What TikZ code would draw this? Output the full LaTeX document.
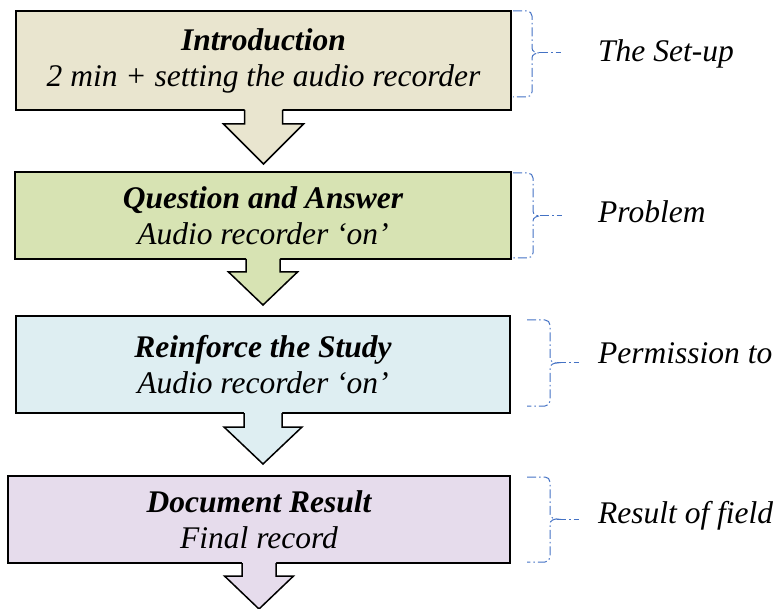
\documentclass[tikz,border=0pt]{standalone}
\usepackage{fontspec}
\setmainfont{Liberation Serif}
\definecolor{introfill}{HTML}{E9E5CF}
\definecolor{qafill}{HTML}{D7E3B3}
\definecolor{reinffill}{HTML}{DEEEF2}
\definecolor{docfill}{HTML}{E6DCEC}
\definecolor{braceblue}{HTML}{4472C4}
\tikzset{
  stage/.style={draw=black, line width=2pt, outer sep=0pt, inner sep=0pt, align=center,
    font=\fontsize{31.5}{36}\selectfont\itshape},
  bracket/.style={braceblue, line width=1pt, dash pattern=on 9pt off 3pt on 1.5pt off 3pt},
  note/.style={anchor=base west, inner sep=0pt, font=\fontsize{31.5}{36}\selectfont\itshape},
}
\begin{document}
\begin{tikzpicture}[x=1pt, y=-1pt]
\useasboundingbox (0,0) rectangle (779,609);

% the four stages
\node [stage, fill=introfill, minimum width=495pt, minimum height=99pt] (intro) at (263.5,60.5)
  {\textbf{Introduction}\\2 min + setting the audio recorder};
\node [stage, fill=qafill, minimum width=496pt, minimum height=87pt] (qa) at (263,215.5)
  {\textbf{Question and Answer}\\Audio recorder `on'};
\node [stage, fill=reinffill, minimum width=494pt, minimum height=97pt] (reinforce) at (263,364.5)
  {\textbf{Reinforce the Study}\\Audio recorder `on'};
\node [stage, fill=docfill, minimum width=502pt, minimum height=87pt] (docres) at (259,519.5)
  {\textbf{Document Result}\\Final record};

% block arrows under each stage
\foreach \from/\col/\s/\h/\t/\l in {intro/introfill/19/40/14/54, qa/qafill/17/34.5/13/46,
    reinforce/reinffill/19/39/14/51, docres/docfill/17/34.5/13/46}
{
  \fill [\col] (\from.south) ++(-\s,-1.5) -- ++(0,\t+1.5) -- ++(\s-\h,0) -- ++(\h,\l-\t)
      -- ++(\h,\t-\l) -- ++(\s-\h,0) -- ++(0,-\t-1.5) -- cycle;
  \draw [line width=1.5pt] (\from.south) ++(-\s,0) -- ++(0,\t) -- ++(\s-\h,0) -- ++(\h,\l-\t)
      -- ++(\h,\t-\l) -- ++(\s-\h,0) -- ++(0,-\t);
}

% braces on the right
\foreach \x/\v/\top/\mid/\bot/\tip in {513/532/11/53/97/tipA, 513/533/173/216/258/tipB,
    527/550/320/363/406/tipC, 527/550/477/519/562/tipD}
{
  \coordinate (\tip) at (\v+7,\mid);
  \draw [bracket] (\x,\top) -- (\v-5,\top) to[out=0,in=90] (\v,\top+5) -- (\v,\mid-5)
      to[out=-90,in=180] (\tip) to[out=180,in=90] (\v,\mid+5) -- (\v,\bot-5)
      to[out=-90,in=0] (\v-5,\bot) -- (\x,\bot);
  \draw [bracket] (\tip) -- ++(22,0);
}

\node [note] (setup) at (598,62) {The Set-up};
\node [note] (problem) at (598,223) {Problem};
\node [note] (permission) at (598,363) {Permission to};
\node [note] (result) at (598,523) {Result of field};

\end{tikzpicture}
\end{document}
